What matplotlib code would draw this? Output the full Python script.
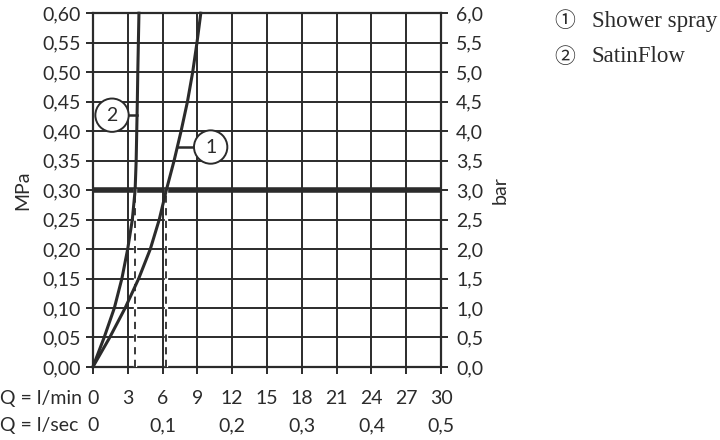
import numpy as np
import matplotlib
matplotlib.use("Agg")
import matplotlib.pyplot as plt

# flow rate ticks
q_lmin = [0, 3, 6, 9, 12, 15, 18, 21, 24, 27, 30]
q_lsec = [0, 0.1, 0.2, 0.3, 0.4, 0.5]
p_ticks = [0.00, 0.05, 0.10, 0.15, 0.20, 0.25, 0.30, 0.35, 0.40, 0.45, 0.50, 0.55, 0.60]

# pressure steps (MPa) at which the curves were read
curve_p = [0, 0.05, 0.10, 0.15, 0.20, 0.25, 0.30, 0.35, 0.40, 0.45, 0.50, 0.55, 0.60]
# curve 1: shower spray, flow in l/min
spray_q = [0, 1.45, 2.78, 3.95, 4.95, 5.72, 6.33, 7.0, 7.6, 8.15, 8.6, 8.97, 9.3]
# curve 2: SatinFlow
satin_q = [0, 0.97, 1.85, 2.5, 3.0, 3.4, 3.64, 3.73, 3.78, 3.83, 3.87, 3.92, 3.97]

p_ref = 0.30
legend_nums = ["\u2460", "\u2461"]
legend_names = ["Shower spray", "SatinFlow"]

dark = "#2b2b2b"
plt.rcParams['font.family'] = ['Lato', 'DejaVu Sans']
fs = 14

fig = plt.figure(figsize=(7.2, 4.4), dpi=100)
ax = fig.add_axes([0.129, 0.166, 0.4835, 0.804])

ax.set_xlim(0, 30)
ax.set_ylim(0, 0.60)
ax.set_xticks(q_lmin)
ax.set_yticks(p_ticks)
ax.grid(True, color=dark, linewidth=1.4)
ax.set_axisbelow(True)
for s in ax.spines.values():
    s.set_color(dark)
    s.set_linewidth(1.6)

ax.tick_params(axis='both', color=dark, width=1.4, length=5, direction='out',
               labelsize=fs, labelcolor=dark, pad=4)
ax.set_xticklabels([])
ax.set_yticklabels([f"{v:.2f}".replace('.', ',') for v in p_ticks])
ax.set_ylabel("MPa", fontsize=fs, color=dark, labelpad=8)

# right axis in bar
ax2 = ax.twinx()
ax2.set_ylim(0, 6.0)
bar_ticks = [v * 10 for v in p_ticks]
ax2.set_yticks(bar_ticks)
ax2.set_yticklabels([f"{v:.1f}".replace('.', ',') for v in bar_ticks])
ax2.tick_params(axis='y', color=dark, width=1.4, length=5, direction='out',
                labelsize=fs, labelcolor=dark, pad=6)
for s in ax2.spines.values():
    s.set_visible(False)
ax2.set_ylabel("bar", fontsize=fs, color=dark, labelpad=6)

# reference line at 3 bar
ax.axhline(p_ref, color=dark, linewidth=4, zorder=3)

# curves
ax.plot(spray_q, curve_p, color=dark, linewidth=2.2, zorder=4, clip_on=False,
        solid_joinstyle='round')
ax.plot(satin_q, curve_p, color=dark, linewidth=2.2, zorder=4, clip_on=False,
        solid_joinstyle='round')

# dashed drops at 0.30 MPa
for qs in (spray_q, satin_q):
    q_at = np.interp(p_ref, curve_p, qs)
    ax.plot([q_at, q_at], [0, p_ref], color="white", linewidth=2.4, zorder=3.5)
    ax.plot([q_at, q_at], [0, p_ref], color=dark, linewidth=1.3,
            linestyle=(0, (4, 3)), zorder=3.6)

# circled curve markers
circle = dict(boxstyle='circle,pad=0.42', fc='white', ec=dark, lw=1.4)
ax.plot([np.interp(0.373, curve_p, spray_q), 9.0], [0.373, 0.373], color=dark, lw=1.8, zorder=4)
ax.text(10.15, 0.373, "1", ha='center', va='center', fontsize=fs, color=dark, zorder=6, bbox=circle)
ax.plot([np.interp(0.427, curve_p, satin_q), 3.0], [0.427, 0.427], color=dark, lw=1.8, zorder=4)
ax.text(1.65, 0.427, "2", ha='center', va='center', fontsize=fs, color=dark, zorder=6, bbox=circle)

# x label rows
xt = ax.get_xaxis_transform()
for q in q_lmin:
    ax.text(q, -0.09, str(q), transform=xt, ha='center', va='center', fontsize=fs, color=dark)
for q in q_lsec:
    lab = "0" if q == 0 else f"{q:.1f}".replace('.', ',')
    ax.text(q * 60, -0.166, lab, transform=xt, ha='center', va='center', fontsize=fs, color=dark)
fig.text(0.0, 1 - 398 / 440, "Q = l/min", ha='left', va='center', fontsize=fs, color=dark)
fig.text(0.0, 1 - 425 / 440, "Q = l/sec", ha='left', va='center', fontsize=fs, color=dark)

# legend
for i, (num, name) in enumerate(zip(legend_nums, legend_names)):
    y = 1 - (21 + 36 * i) / 440
    fig.text(0.785, y, num, ha='center', va='center', fontsize=15, color=dark,
             family=['Noto Sans CJK SC', 'DejaVu Sans'])
    fig.text(0.822, y, name, ha='left', va='center', fontsize=16.5, color=dark,
             family=['Liberation Serif', 'DejaVu Serif'])

fig.savefig("out.png", dpi=100)
